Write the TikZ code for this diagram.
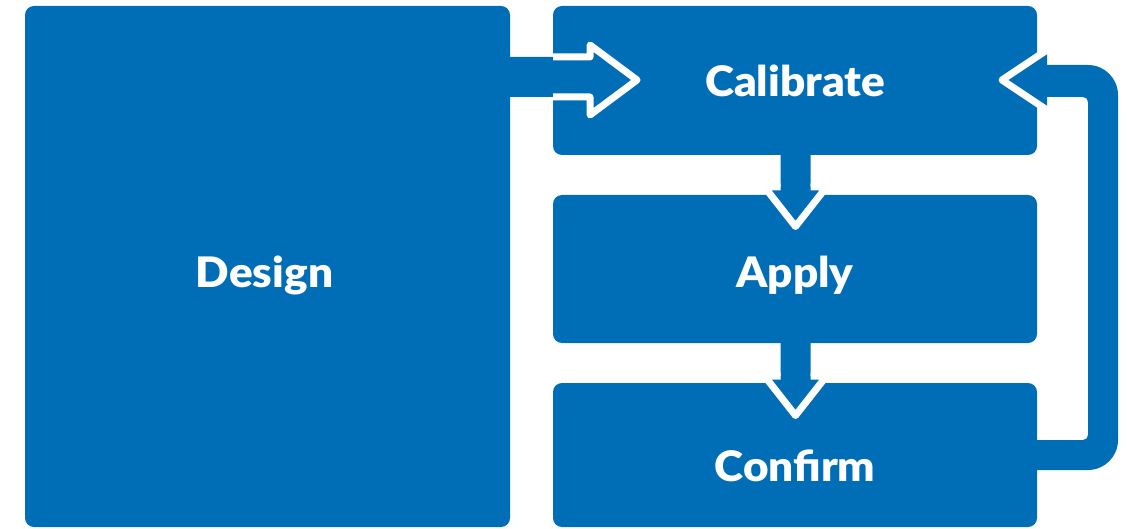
\documentclass[tikz,border=0pt]{standalone}
\usepackage{fontspec}
\setmainfont{Lato}
\IfFontExistsTF{Lato Black}{\newfontfamily\lblfont{Lato Black}[FakeStretch=1.05]}{\newfontfamily\lblfont{Lato}[UprightFont=*-Bold,FakeStretch=1.05]}
\definecolor{boxblue}{RGB}{0,110,183}
\begin{document}
\begin{tikzpicture}[x=1pt,y=-1pt,
  box/.style={fill=boxblue,rounded corners=9pt},
  lbl/.style={text=white,font=\lblfont\fontsize{42}{50}\selectfont,anchor=base,inner sep=0pt},
  outline/.style={white,line width=7pt,line join=round},
  arrowfill/.style={fill=boxblue}]
\useasboundingbox (0,0) rectangle (1127,529);
% boxes
\fill[box] (25,6) rectangle (510,527);
\fill[box] (553,6) rectangle (1037,155);
\fill[box] (553,195) rectangle (1037,343);
\fill[box] (553,383) rectangle (1037,527);
% Design -> Calibrate
\fill[arrowfill] (505,57) -- (590,57) -- (590,45) -- (637,80) -- (590,115) -- (590,97) -- (505,97) -- cycle;
\draw[outline] (553,57) -- (590,57) -- (590,45) -- (637,80) -- (590,115) -- (590,97) -- (553,97);
% Calibrate -> Apply
\fill[arrowfill] (780.5,150) -- (780.5,187) -- (764.5,187) -- (795.5,226.5) -- (826.5,187) -- (810.5,187) -- (810.5,150) -- cycle;
\draw[outline] (780.5,187) -- (764.5,187) -- (795.5,226.5) -- (826.5,187) -- (810.5,187);
% Apply -> Confirm
\fill[arrowfill] (780.5,338) -- (780.5,376) -- (764.5,376) -- (795.5,415.5) -- (826.5,376) -- (810.5,376) -- (810.5,338) -- cycle;
\draw[outline] (780.5,376) -- (764.5,376) -- (795.5,415.5) -- (826.5,376) -- (810.5,376);
% Confirm -> Calibrate loop
\fill[arrowfill] (1032,440) -- (1083,440) .. controls (1085.8,440) and (1088,437.8) .. (1088,435)
  -- (1088,102) .. controls (1088,99.2) and (1085.8,97) .. (1083,97)
  -- (1047,97) -- (1047,110) -- (1002,80) -- (1047,50) -- (1047,65)
  -- (1088,65) .. controls (1104.6,65) and (1118,78.4) .. (1118,95)
  -- (1118,440) .. controls (1118,456.6) and (1104.6,470) .. (1088,470)
  -- (1032,470) -- cycle;
\draw[outline,line cap=round] (1047,110) -- (1002,80) -- (1047,50);
% labels
\node[lbl] (tdesign) at (264.5,288) {Design};
\node[lbl] (tcal) at (795,97) {Calibrate};
\node[lbl] (tapply) at (795,288) {Apply};
\node[lbl] (tconf) at (795,481) {Confirm};
\end{tikzpicture}
\end{document}
